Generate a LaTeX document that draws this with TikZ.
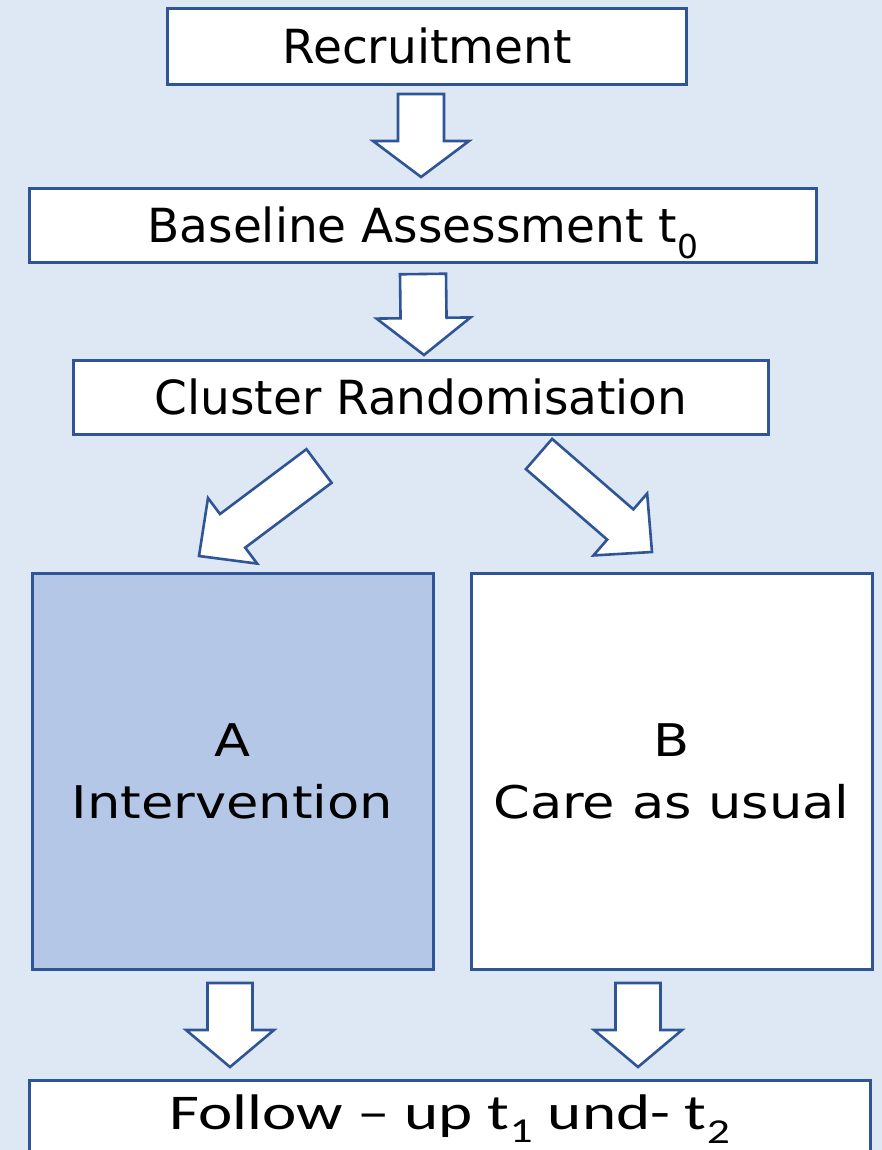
\documentclass[tikz,border=0pt]{standalone}
\usepackage{fontspec}
\newfontfamily\boxfont{DejaVu Sans}
\newfontfamily\armfont[FakeStretch=1.17]{DejaVu Sans}
\newfontfamily\followfont[FakeStretch=1.3]{Carlito}
\usetikzlibrary{calc}

\definecolor{bgblue}{HTML}{DEE8F4}
\definecolor{frameblue}{HTML}{2F5597}
\definecolor{armblue}{HTML}{B4C7E7}

% block arrow: tail, tip, shaft half width, head half width, head length
\newcommand{\blockarrow}[5]{%
    \coordinate (shoulder) at ($(#2)!#5!(#1)$);
    \draw[hollow] ($(#1)!#3!90:(#2)$) -- ($(shoulder)!#3!90:(#2)$) -- ($(shoulder)!#4!90:(#2)$) -- (#2)
        -- ($(shoulder)!#4!-90:(#2)$) -- ($(shoulder)!#3!-90:(#2)$) -- ($(#1)!#3!-90:(#2)$) -- cycle;
}

\begin{document}
\begin{tikzpicture}[x=1pt, y=-1pt,
        stage/.style={rectangle, draw=frameblue, fill=white, line width=3pt, inner sep=0pt,
            text height=34pt, text depth=0pt, font=\boxfont\fontsize{47}{56}\selectfont},
        arm/.style={rectangle, draw=frameblue, line width=3pt, inner sep=0pt, align=center,
            minimum width=401pt, minimum height=396pt, font=\armfont\fontsize{45}{62}\selectfont},
        outcome/.style={rectangle, draw=frameblue, fill=white, line width=3pt, inner sep=0pt, anchor=north,
            minimum width=841pt, text height=49pt, text depth=100pt, font=\followfont\fontsize{50}{60}\selectfont},
        hollow/.style={draw=frameblue, fill=white, line width=2.6pt, line join=miter}
    ]

    \useasboundingbox (0,0) rectangle (882,1150);
    \clip (0,0) rectangle (882,1150);
    \fill[bgblue] (0,0) rectangle (882,1150);

    % Nodes
    \node[stage, minimum width=519pt, minimum height=76pt] (recruit) at (427,46.5) {Recruitment};
    \node[stage, minimum width=787pt, minimum height=74pt] (baseline) at (423,225.5) {Baseline Assessment t\textsubscript{0}};
    \node[stage, minimum width=695pt, minimum height=74pt] (cluster) at (421,397.5) {Cluster Randomisation};

    \node[arm, fill=armblue] (armA) at (232.5,771.5) {A\\Intervention};
    \node[arm, fill=white] (armB) at (671.5,771.5) {B\\Care as usual};

    \node[outcome] (follow) at (450,1078.5) {Follow – up t\textsubscript{1} und- t\textsubscript{2}};

    % Arrow ends
    \coordinate (r-tail) at (421,94);    \coordinate (r-tip) at (421,177);
    \coordinate (b-tail) at (423,274);   \coordinate (b-tip) at (424,355);
    \coordinate (ca-tail) at (319,466);  \coordinate (ca-tip) at (199,556);
    \coordinate (cb-tail) at (539,454);  \coordinate (cb-tip) at (652,552);
    \coordinate (a-tail) at (230,983);   \coordinate (a-tip) at (230,1067);
    \coordinate (bb-tail) at (638,983);  \coordinate (bb-tip) at (638,1067);

    % Paths
    \blockarrow{r-tail}{r-tip}{23pt}{48pt}{36pt}
    \blockarrow{b-tail}{b-tip}{23pt}{47pt}{37pt}
    \blockarrow{ca-tail}{ca-tip}{21pt}{41pt}{42pt}
    \blockarrow{cb-tail}{cb-tip}{20pt}{41pt}{42pt}
    \blockarrow{a-tail}{a-tip}{22.5pt}{44pt}{37pt}
    \blockarrow{bb-tail}{bb-tip}{22.5pt}{44pt}{37pt}

\end{tikzpicture}
\end{document}
